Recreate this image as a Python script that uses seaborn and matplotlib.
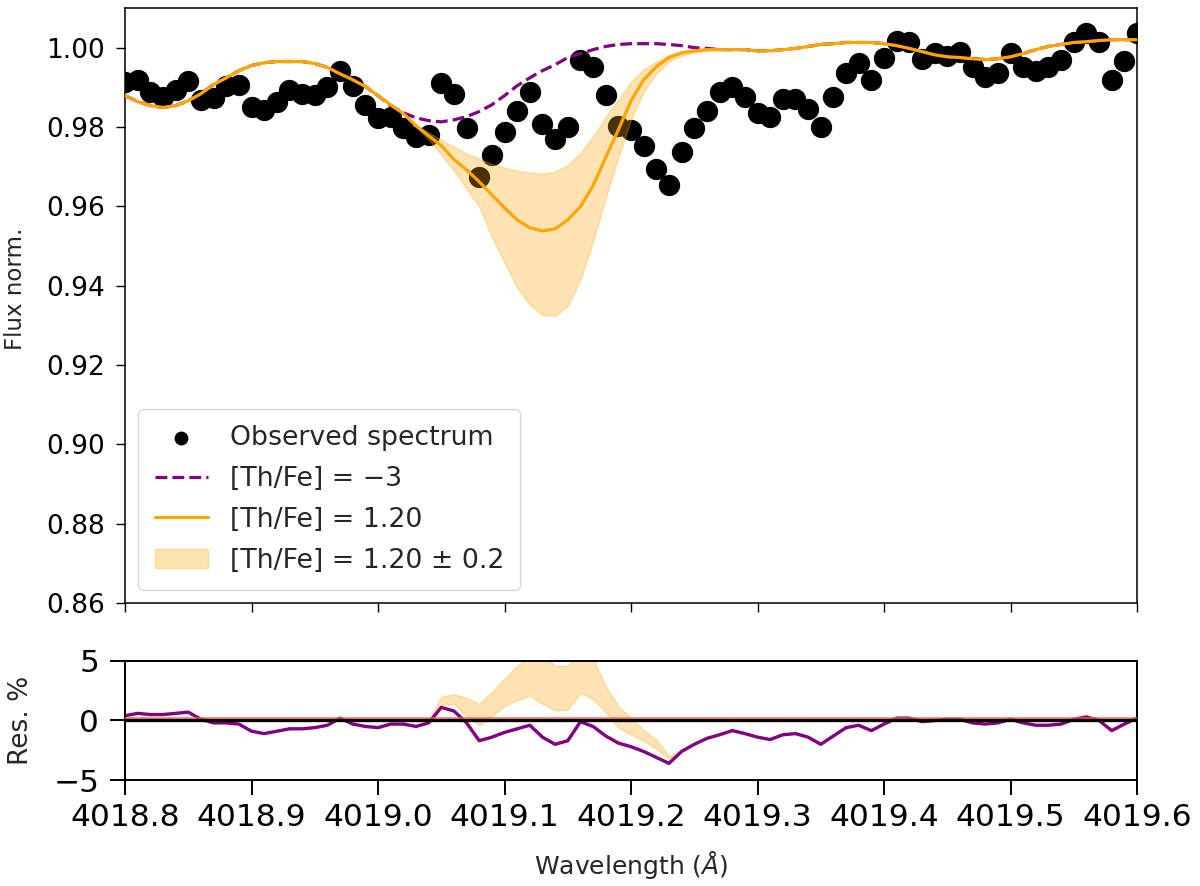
import numpy as np
import matplotlib
matplotlib.use("Agg")
import matplotlib.pyplot as plt
import seaborn as sns

sns.set_style("ticks")
plt.rcParams["font.family"] = ["DejaVu Sans"]
plt.rcParams["axes.edgecolor"] = "black"
plt.rcParams["xtick.color"] = "black"
plt.rcParams["ytick.color"] = "black"

# wavelength grid (0.01 A steps)
wave = np.round(np.arange(4018.80, 4019.605, 0.01), 2)

# observed normalised flux
flux_obs = [0.9914, 0.9919, 0.9887, 0.9876, 0.9894, 0.9917, 0.9869, 0.9874, 0.9904, 0.9907,
            0.9851, 0.9844, 0.9864, 0.9892, 0.9884, 0.9881, 0.9902, 0.9942, 0.9904, 0.9856,
            0.9823, 0.9826, 0.9798, 0.9776, 0.9781, 0.9912, 0.9884, 0.9798, 0.9675, 0.9730,
            0.9788, 0.9841, 0.9887, 0.9808, 0.9770, 0.9801, 0.9970, 0.9950, 0.9881, 0.9803,
            0.9793, 0.9753, 0.9695, 0.9654, 0.9738, 0.9798, 0.9841, 0.9889, 0.9902, 0.9876,
            0.9836, 0.9826, 0.9871, 0.9871, 0.9846, 0.9801, 0.9876, 0.9937, 0.9962, 0.9919,
            0.9975, 1.0018, 1.0013, 0.9972, 0.9987, 0.9980, 0.9990, 0.9950, 0.9927, 0.9937,
            0.9987, 0.9952, 0.9940, 0.9950, 0.9970, 1.0015, 1.0038, 1.0013, 0.9919, 0.9967,
            1.0038]

# synthetic spectrum [Th/Fe] = -3
model_low = [0.9879, 0.9864, 0.9854, 0.9849, 0.9854, 0.9866, 0.9884, 0.9907, 0.9924, 0.9942,
             0.9955, 0.9962, 0.9965, 0.9965, 0.9965, 0.9960, 0.9950, 0.9934, 0.9919, 0.9902,
             0.9879, 0.9854, 0.9836, 0.9823, 0.9816, 0.9813, 0.9818, 0.9826, 0.9839, 0.9856,
             0.9879, 0.9904, 0.9924, 0.9942, 0.9957, 0.9975, 0.9985, 0.9995, 1.0003, 1.0008,
             1.0010, 1.0010, 1.0010, 1.0008, 1.0005, 1.0000, 0.9998, 0.9995, 0.9995, 0.9995,
             0.9992, 0.9992, 0.9995, 0.9998, 1.0003, 1.0008, 1.0010, 1.0013, 1.0013, 1.0013,
             1.0010, 1.0005, 0.9998, 0.9990, 0.9982, 0.9977, 0.9975, 0.9972, 0.9970, 0.9972,
             0.9977, 0.9985, 0.9995, 1.0003, 1.0008, 1.0013, 1.0015, 1.0018, 1.0020, 1.0020,
             1.0020]

# synthetic spectrum [Th/Fe] = 1.20
model_best = [0.9879, 0.9864, 0.9854, 0.9849, 0.9854, 0.9866, 0.9884, 0.9907, 0.9924, 0.9942,
              0.9955, 0.9962, 0.9965, 0.9965, 0.9965, 0.9960, 0.9950, 0.9934, 0.9919, 0.9902,
              0.9879, 0.9856, 0.9834, 0.9803, 0.9778, 0.9753, 0.9718, 0.9692, 0.9662, 0.9629,
              0.9596, 0.9566, 0.9546, 0.9538, 0.9543, 0.9566, 0.9599, 0.9652, 0.9723, 0.9793,
              0.9866, 0.9919, 0.9952, 0.9975, 0.9987, 0.9992, 0.9995, 0.9995, 0.9995, 0.9995,
              0.9992, 0.9992, 0.9995, 0.9998, 1.0003, 1.0008, 1.0010, 1.0013, 1.0013, 1.0013,
              1.0010, 1.0005, 0.9998, 0.9990, 0.9982, 0.9977, 0.9975, 0.9972, 0.9970, 0.9972,
              0.9977, 0.9985, 0.9995, 1.0003, 1.0008, 1.0013, 1.0015, 1.0018, 1.0020, 1.0020,
              1.0020]

# [Th/Fe] = 1.20 - 0.2 and 1.20 + 0.2
model_upper = [0.9879, 0.9864, 0.9854, 0.9849, 0.9854, 0.9866, 0.9884, 0.9907, 0.9924, 0.9942,
               0.9955, 0.9962, 0.9965, 0.9965, 0.9965, 0.9960, 0.9950, 0.9934, 0.9919, 0.9902,
               0.9879, 0.9856, 0.9834, 0.9806, 0.9786, 0.9768, 0.9750, 0.9733, 0.9720, 0.9707,
               0.9697, 0.9690, 0.9685, 0.9682, 0.9687, 0.9705, 0.9735, 0.9776, 0.9826, 0.9869,
               0.9914, 0.9945, 0.9965, 0.9982, 0.9990, 0.9992, 0.9995, 0.9995, 0.9995, 0.9995,
               0.9992, 0.9992, 0.9995, 0.9998, 1.0003, 1.0008, 1.0010, 1.0013, 1.0013, 1.0013,
               1.0010, 1.0005, 0.9998, 0.9990, 0.9982, 0.9977, 0.9975, 0.9972, 0.9970, 0.9972,
               0.9977, 0.9985, 0.9995, 1.0003, 1.0008, 1.0013, 1.0015, 1.0018, 1.0020, 1.0020,
               1.0020]
model_lower = [0.9879, 0.9864, 0.9854, 0.9849, 0.9854, 0.9866, 0.9884, 0.9907, 0.9924, 0.9942,
               0.9955, 0.9962, 0.9965, 0.9965, 0.9965, 0.9960, 0.9950, 0.9934, 0.9919, 0.9902,
               0.9879, 0.9856, 0.9834, 0.9801, 0.9768, 0.9730, 0.9690, 0.9644, 0.9599, 0.9523,
               0.9458, 0.9395, 0.9352, 0.9326, 0.9324, 0.9349, 0.9415, 0.9511, 0.9622, 0.9723,
               0.9818, 0.9889, 0.9934, 0.9965, 0.9980, 0.9987, 0.9992, 0.9995, 0.9995, 0.9995,
               0.9992, 0.9992, 0.9995, 0.9998, 1.0003, 1.0008, 1.0010, 1.0013, 1.0013, 1.0013,
               1.0010, 1.0005, 0.9998, 0.9990, 0.9982, 0.9977, 0.9975, 0.9972, 0.9970, 0.9972,
               0.9977, 0.9985, 0.9995, 1.0003, 1.0008, 1.0013, 1.0015, 1.0018, 1.0020, 1.0020,
               1.0020]

# residuals in percent
res_low = [0.4, 0.6, 0.5, 0.5, 0.6, 0.7, 0.1, -0.2, -0.2, -0.3,
           -0.9, -1.1, -0.9, -0.7, -0.7, -0.6, -0.4, 0.2, -0.3, -0.5,
           -0.6, -0.3, -0.3, -0.5, -0.2, 1.1, 0.8, -0.2, -1.7, -1.4,
           -1.0, -0.7, -0.4, -1.4, -2.0, -1.7, -0.1, -0.5, -1.3, -1.9,
           -2.2, -2.6, -3.1, -3.6, -2.6, -2.0, -1.5, -1.2, -0.85, -1.1,
           -1.4, -1.6, -1.2, -1.1, -1.4, -2.0, -1.3, -0.6, -0.4, -0.85,
           -0.3, 0.2, 0.2, -0.1, 0.0, 0.1, 0.1, -0.2, -0.3, -0.2,
           0.1, -0.2, -0.4, -0.4, -0.3, 0.1, 0.3, 0.0, -0.85, -0.3,
           0.2]
nan = float("nan")
res_band_hi = [nan] * 24 + [0.0, 2.0, 2.2, 1.9, 1.4, 2.4, 3.5, 4.6, 5.3, 5.5, 4.6,
                            4.6, 5.5, 5.2, 2.9, 1.2, 0.2, -0.8, -1.6, -3.0, -2.5,
                            -2.0] + [nan] * 35
res_band_lo = [nan] * 24 + [0.0, 1.3, 1.4, 0.4, -0.4, 0.4, 1.2, 1.7, 2.1, 1.4, 0.85,
                            0.9, 2.3, 1.8, 0.7, -0.6, -1.2, -1.7, -2.4, -3.2, -2.5,
                            -2.0] + [nan] * 35
best_res_level = 0.25

fig = plt.figure(figsize=(12, 8.86), dpi=100)
ax1 = fig.add_axes([0.1042, 0.3194, 0.8433, 0.6716])
ax2 = fig.add_axes([0.1042, 0.1196, 0.8433, 0.1344], sharex=ax1)

# top panel: spectrum and synthetic fits
sns.scatterplot(x=wave, y=flux_obs, ax=ax1, color="black", s=235, linewidth=0,
                label="Observed spectrum", zorder=2)
sns.lineplot(x=wave, y=model_low, ax=ax1, color="purple", linestyle="--", lw=2.3,
             label="[Th/Fe] = \u22123", zorder=3)
sns.lineplot(x=wave, y=model_best, ax=ax1, color="orange", lw=2.3,
             label="[Th/Fe] = 1.20", zorder=3)
ax1.fill_between(wave, model_lower, model_upper, color="orange", alpha=0.3, lw=1,
                 label="[Th/Fe] = 1.20 \u00b1 0.2", zorder=4)

ax1.set_xlim(4018.8, 4019.6)
ax1.set_ylim(0.86, 1.01)
ax1.set_yticks(np.arange(0.86, 1.001, 0.02))
ax1.set_ylabel("Flux norm.", fontsize=16.5)
ax1.yaxis.set_label_coords(-0.097, 0.528)
ax1.tick_params(axis="y", labelsize=19, length=6.5, width=1, pad=8)
ax1.tick_params(axis="x", labelbottom=False, length=6.5, width=1)
ax1.legend(loc="lower left", fontsize=19.3, markerscale=0.65, handlelength=2.0,
           borderpad=0.6, labelspacing=0.55, handletextpad=0.8)
for sp in ax1.spines.values():
    sp.set_linewidth(1.1)

# bottom panel: residuals
ax2.fill_between(wave, res_band_lo, res_band_hi, color="orange", alpha=0.3, lw=1, zorder=1)
sns.lineplot(x=wave, y=res_low, ax=ax2, color="purple", lw=2.4, zorder=2)
ax2.axhline(best_res_level, color="tomato", lw=1.5, alpha=0.7, zorder=3)
ax2.axhline(0, color="black", lw=2.4, zorder=4)
ax2.set_ylim(-5, 5)
ax2.set_yticks([-5, 0, 5])
ax2.set_xticks(np.round(np.arange(4018.8, 4019.65, 0.1), 1))
ax2.set_xticklabels([f"{t:.1f}" for t in np.arange(4018.8, 4019.65, 0.1)])
ax2.tick_params(labelsize=22.5, length=10.5, width=1.4, pad=6)
ax2.tick_params(axis="y", pad=8)
ax2.set_ylabel("Res. %", fontsize=19)
ax2.yaxis.set_label_coords(-0.09, 0.5)
ax2.set_xlabel("Wavelength ($Å$)", fontsize=18)
ax2.xaxis.set_label_coords(0.5, -0.58)
for sp in ax2.spines.values():
    sp.set_linewidth(1.4)

fig.savefig("out.png", dpi=100)
